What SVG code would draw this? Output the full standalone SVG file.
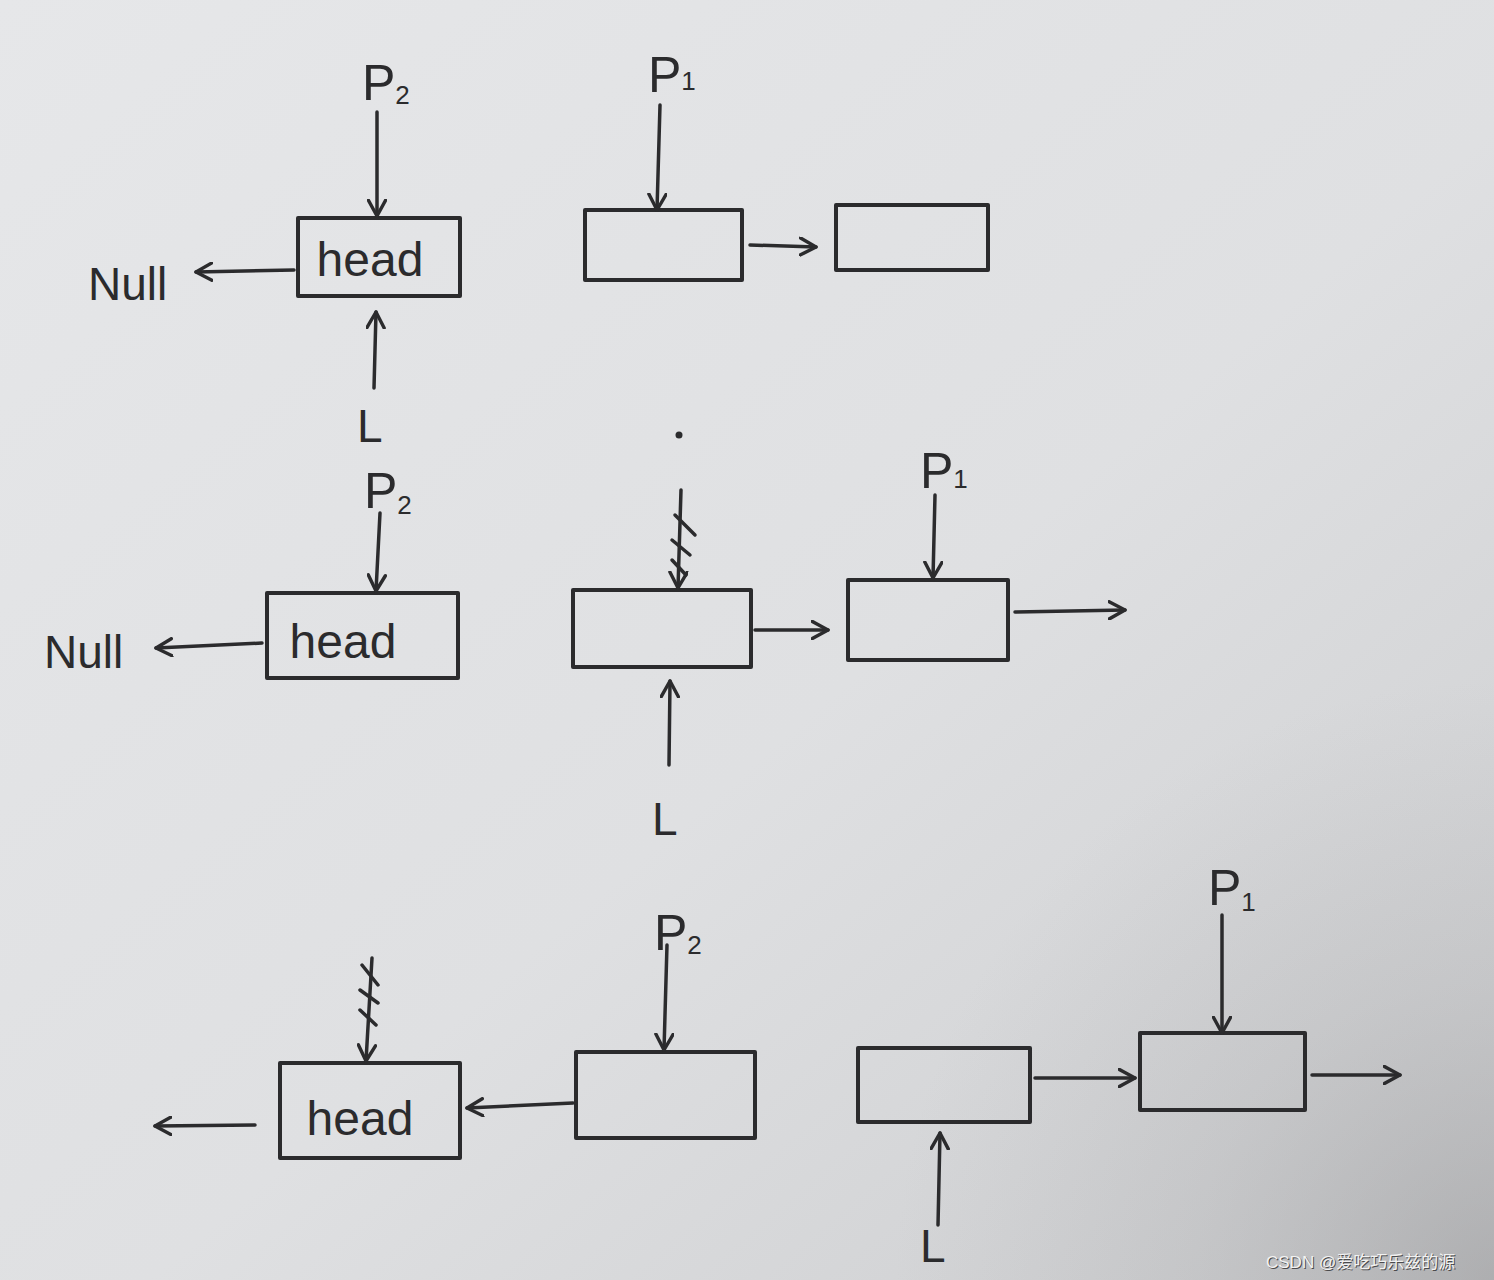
<svg xmlns="http://www.w3.org/2000/svg" width="1494" height="1280" viewBox="0 0 1494 1280">
<defs>
<linearGradient id="bg" x1="0" y1="0" x2="1" y2="1">
<stop offset="0" stop-color="#e6e7e9"/>
<stop offset="0.55" stop-color="#dfe0e2"/>
<stop offset="1" stop-color="#cbccce"/>
</linearGradient>
<radialGradient id="vig" cx="1494" cy="1280" r="600" gradientUnits="userSpaceOnUse">
<stop offset="0" stop-color="#8a8a8c" stop-opacity="0.45"/>
<stop offset="0.5" stop-color="#9a9a9c" stop-opacity="0.2"/>
<stop offset="1" stop-color="#a0a0a2" stop-opacity="0"/>
</radialGradient>
<marker id="ah" viewBox="0 0 14 14" refX="12" refY="7" markerWidth="20" markerHeight="20" markerUnits="userSpaceOnUse" orient="auto">
<path d="M1,1 L12,7 L1,13" fill="none" stroke="#2b2b2d" stroke-width="2.4" stroke-linecap="round" stroke-linejoin="round"/>
</marker>
<style>
.box{fill:none;stroke:#2b2b2d;stroke-width:4;stroke-linejoin:round}
.ln{fill:none;stroke:#2b2b2d;stroke-width:3.5;stroke-linecap:round;marker-end:url(#ah)}
.x{fill:none;stroke:#2b2b2d;stroke-width:3.5;stroke-linecap:round}
.t{font-family:"Liberation Sans","DejaVu Sans",sans-serif;fill:#2b2b2d}
.lbl{font-size:50px}
.sub{font-size:26px}
.hd{font-size:48px}
.wm{font-family:"Liberation Sans","Noto Sans CJK SC",sans-serif;font-size:17px}
</style>
</defs>
<rect width="1494" height="1280" fill="url(#bg)"/>
<rect width="1494" height="1280" fill="url(#vig)"/>

<!-- Row 1 -->
<g id="r1-head"><rect class="box" x="298" y="218" width="162" height="78"/><text class="t hd" x="370" y="276" text-anchor="middle">head</text></g>
<g id="r1-null"><text class="t" x="88" y="300" font-size="46">Null</text></g>
<g id="r1-n2"><rect class="box" x="585" y="210" width="157" height="70"/></g>
<g id="r1-n3"><rect class="box" x="836" y="205" width="152" height="65"/></g>
<g id="r1-p2"><text class="t lbl" x="362" y="100">P<tspan class="sub" dy="4">2</tspan></text></g>
<g id="r1-p1"><text class="t lbl" x="648" y="92">P<tspan class="sub" dy="-2">1</tspan></text></g>
<g id="r1-L"><text class="t" x="357" y="442" font-size="46">L</text></g>

<!-- Row 2 -->
<g id="r2-head"><rect class="box" x="267" y="593" width="191" height="85"/><text class="t hd" x="343" y="658" text-anchor="middle">head</text></g>
<g id="r2-null"><text class="t" x="44" y="668" font-size="46">Null</text></g>
<g id="r2-n2"><rect class="box" x="573" y="590" width="178" height="77"/></g>
<g id="r2-n3"><rect class="box" x="848" y="580" width="160" height="80"/></g>
<g id="r2-p2"><text class="t lbl" x="364" y="508">P<tspan class="sub" dy="6">2</tspan></text></g>
<g id="r2-p1"><text class="t lbl" x="920" y="488">P<tspan class="sub" dy="0">1</tspan></text></g>
<g id="r2-L"><text class="t" x="652" y="835" font-size="46">L</text></g>
<circle cx="679" cy="435" r="3.5" fill="#2b2b2d"/>

<!-- Row 3 -->
<g id="r3-head"><rect class="box" x="280" y="1063" width="180" height="95"/><text class="t hd" x="360" y="1135" text-anchor="middle">head</text></g>
<g id="r3-n2"><rect class="box" x="576" y="1052" width="179" height="86"/></g>
<g id="r3-n3"><rect class="box" x="858" y="1048" width="172" height="74"/></g>
<g id="r3-n4"><rect class="box" x="1140" y="1033" width="165" height="77"/></g>
<g id="r3-p2"><text class="t lbl" x="654" y="950">P<tspan class="sub" dy="4">2</tspan></text></g>
<g id="r3-p1"><text class="t lbl" x="1208" y="905">P<tspan class="sub" dy="6">1</tspan></text></g>
<g id="r3-L"><text class="t" x="920" y="1262" font-size="46">L</text></g>

<g id="connectors">
<!-- row 1 -->
<path class="ln" d="M377,112 L377,216"/>
<path class="ln" d="M294,270 L196,272"/>
<path class="ln" d="M374,388 L376,312"/>
<path class="ln" d="M660,105 L657,210"/>
<path class="ln" d="M750,245 L816,247"/>
<!-- row 2 -->
<path class="ln" d="M380,513 L376,591"/>
<path class="ln" d="M262,643 L156,648"/>
<path class="ln" d="M681,490 L678,588"/>
<path class="x" d="M675,515 L695,535 M672,540 L690,555 M672,560 L686,575"/>
<path class="ln" d="M755,630 L828,630"/>
<path class="ln" d="M935,495 L933,578"/>
<path class="ln" d="M1015,612 L1125,610"/>
<path class="ln" d="M669,765 L670,681"/>
<!-- row 3 -->
<path class="ln" d="M372,958 L366,1061"/>
<path class="x" d="M362,965 L378,985 M360,990 L378,1003 M360,1010 L376,1025"/>
<path class="ln" d="M255,1125 L155,1126"/>
<path class="ln" d="M573,1103 L467,1108"/>
<path class="ln" d="M667,945 L664,1050"/>
<path class="ln" d="M1035,1078 L1135,1078"/>
<path class="ln" d="M1222,915 L1222,1033"/>
<path class="ln" d="M1312,1075 L1400,1075"/>
<path class="ln" d="M938,1225 L940,1133"/>
</g>

<text class="wm" x="1267" y="1269" fill="#4a4a4c">CSDN @爱吃巧乐兹的源</text>
<text class="wm" x="1266" y="1268" fill="#f2f2f2">CSDN @爱吃巧乐兹的源</text>
</svg>
